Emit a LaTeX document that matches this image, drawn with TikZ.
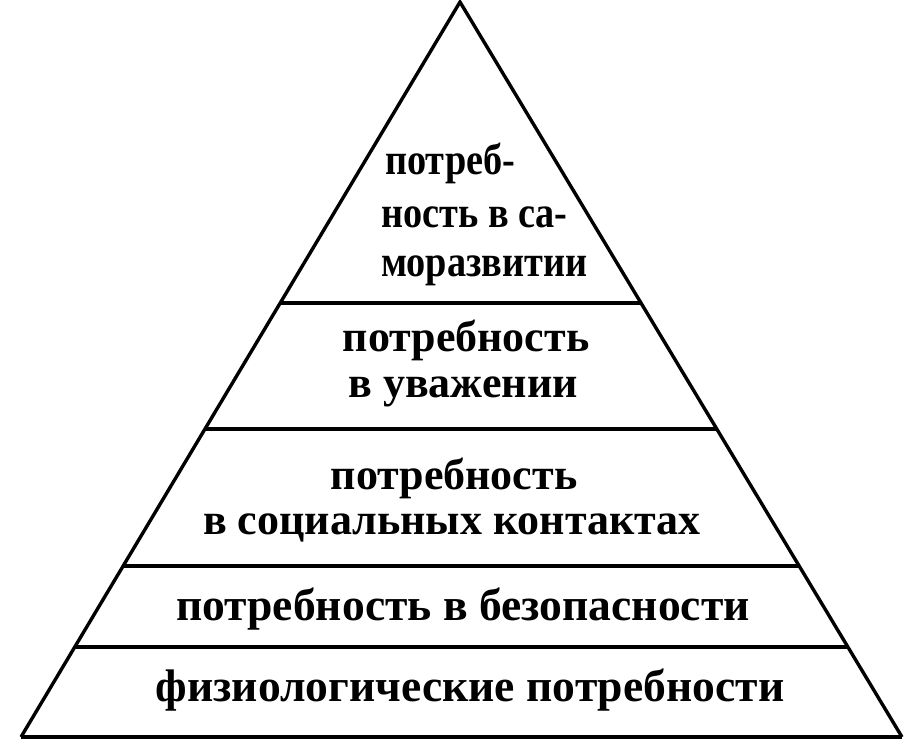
\documentclass[tikz,border=0pt]{standalone}
\usepackage{fontspec}
\setmainfont{Liberation Serif}
\newfontfamily\narrowserif[FakeStretch=0.87]{Liberation Serif}
\usetikzlibrary{calc}
\tikzset{
  side/.style={line width=3.4pt, line join=miter},
  level/.style={line width=4pt},
  lbl/.style={inner sep=0pt, anchor=base, font=\fontsize{44}{50}\selectfont\bfseries},
  lblbig/.style={lbl, font=\fontsize{45.6}{50}\selectfont\bfseries},
  lblw/.style={inner sep=0pt, anchor=base west, font=\narrowserif\fontsize{44}{50}\selectfont\bfseries}
}
\begin{document}
\begin{tikzpicture}[x=1pt,y=1pt]
\useasboundingbox (0,0) rectangle (905,744);
\coordinate (A) at (460,742);
\coordinate (L) at (21,7);
\coordinate (R) at (902,7);
\draw[side] (L) -- (A) -- (R);
\draw[level] (L) -- (R);
\foreach \t/\n in {0.591/a,0.4185/b,0.2323/c,0.1223/d}{
  \coordinate (l\n) at ($(L)!\t!(A)$);
  \coordinate (r\n) at ($(R)!\t!(A)$);
  \draw[level] (l\n) -- (r\n);
}
% top block
\node[lblw] (t1) at (385,569) {потреб-};
\node[lblw] (t2) at (381,516) {ность в са-};
\node[lblw] (t3) at (381,467) {моразвитии};
% esteem
\node[lbl] (e1) at (466,392) {потребность};
\node[lbl] (e2) at (463,346) {в уважении};
% social
\node[lbl] (s1) at (454,254) {потребность};
\node[lbl] (s2) at (452,209) {в социальных контактах};
% safety
\node[lblbig] (b1) at (463,123) {потребность в безопасности};
% physiological
\node[lblbig] (f1) at (470,42) {физиологические потребности};
\end{tikzpicture}
\end{document}
